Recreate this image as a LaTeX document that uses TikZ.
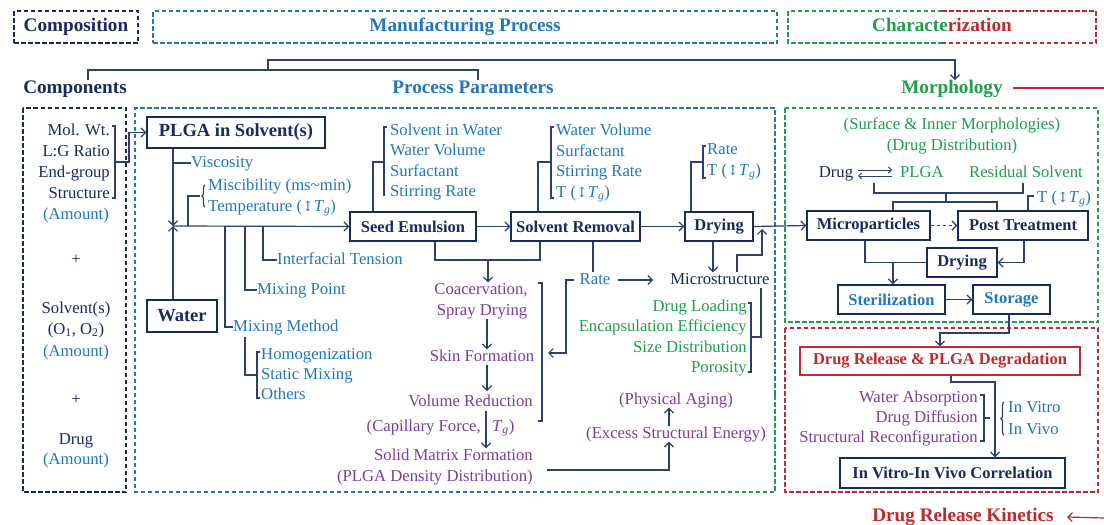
\documentclass[tikz,border=0pt]{standalone}
\usepackage{fontspec}
\setmainfont{Liberation Serif}
\newfontfamily\arrfont{DejaVu Serif}
\usetikzlibrary{arrows.meta,decorations.pathreplacing}
\definecolor{cnavy}{HTML}{1B2A5C}
\definecolor{cblue}{HTML}{2277BB}
\definecolor{cgreen}{HTML}{1F9E4E}
\definecolor{cred}{HTML}{BE2A2E}
\definecolor{cpurple}{HTML}{7A3E9D}
\definecolor{cline}{HTML}{2E3F6E}
\newcommand\fz[1]{\fontsize{#1}{20}\selectfont}
\newcommand\Tg{\textit{T}\textsubscript{\textit{g}}}
\newcommand\ud{{\arrfont\fontsize{14}{16}\selectfont ↕}}
\begin{document}
\begin{tikzpicture}[x=1pt,y=-1pt,
  t/.style={inner sep=0pt,font=\fz{16.7},text height=11.5pt,text depth=3.5pt,text=cnavy},
  hd/.style={inner sep=0pt,font=\fz{19.2}\bfseries,text height=13.5pt,text depth=4pt},
  bx/.style={draw=cnavy,line width=1.4pt,inner sep=0pt,font=\fz{16.5}\bfseries,text=cnavy,minimum height=29pt},
  dsh/.style={line width=1.6pt,dash pattern=on 4.5pt off 2.5pt},
  con/.style={draw=cline,line width=1.2pt},
  arr/.style={con,-{Straight Barb[length=4.5pt,width=9pt]}},
  brc/.style={con,decorate,decoration={brace,amplitude=3pt}}
  ]
\useasboundingbox (0,0) rectangle (1104,525);
\fill[white] (0,0) rectangle (1104,525);

% ---------- top headers
\node[hd,draw=cnavy,dsh,minimum width=124pt,minimum height=32pt,text=cnavy] (compo) at (76,27) {Composition};
\node[hd,draw=cblue,dsh,minimum width=624pt,minimum height=32pt,text=cblue] (manu) at (465,27) {Manufacturing Process};
\node[hd] (charz) at (942,27) {\textcolor{cgreen}{Characte}\textcolor{cred}{rization}};
\draw[cgreen,dsh] (942,11) -- (788,11) -- (788,43) -- (942,43);
\draw[cred,dsh] (942,11) -- (1096,11) -- (1096,43) -- (942,43);

% ---------- second row headers
\node[hd,text=cnavy] (comp) at (75,89) {Components};
\node[hd,text=cblue] (pp) at (473,89) {Process Parameters};
\node[hd,text=cgreen] (morph) at (952,89) {Morphology};
\draw[cred,line width=1.2pt] (1013,88) -- (1104,88);
\draw[con] (comp.north -| 88,0) -- (88,70) -- (478,70) -- (pp.north -| 478,0);
\draw[arr] (268,70) -- (268,60) -- (955,60) -- (morph.north -| 955,0);

% ---------- frames
\draw[cnavy,dsh] (23,108) rectangle (126,492);
\draw[cblue,dsh] (565,492) -- (135,492) -- (135,108) -- (775,108) -- (775,395);
\draw[cgreen,dsh] (775,395) -- (775,492) -- (565,492);
\draw[cgreen,dsh] (785,108) rectangle (1098,322);
\draw[cred,dsh] (785,328) rectangle (1098,492);

% ---------- components
\node[t,anchor=east] (mw) at (110,131) {Mol. Wt.};
\node[t,anchor=east] (lg) at (110,152) {L:G Ratio};
\node[t,anchor=east] (eg) at (110,173) {End-group};
\node[t,anchor=east] (st) at (110,194) {Structure};
\node[t,text=cblue] (am1) at (76,215) {(Amount)};
\node[t] (p1) at (76,260) {+};
\node[t] (sv) at (76,309) {Solvent(s)};
\node[t] (oo) at (76,330) {(O\textsubscript{1}, O\textsubscript{2})};
\node[t,text=cblue] (am2) at (76,352) {(Amount)};
\node[t] (p2) at (76,400) {+};
\node[t] (drg) at (76,440) {Drug};
\node[t,text=cblue] (am3) at (76,460) {(Amount)};
\draw[con] (112,126) -- (115,126) -- (115,198) -- (112,198);

% ---------- PLGA / water
\node[bx,font=\fz{18.5}\bfseries,minimum width=178pt,minimum height=31pt] (plga) at (236,132.5) {PLGA in Solvent(s)};
\node[bx,font=\fz{18.5}\bfseries,minimum width=70pt,minimum height=32pt] (water) at (182,316) {Water};
\draw[arr] (115,162) -- (129,162) |- (plga.west);
\coordinate (J) at (173,226);
\draw[arr] (plga.south -| J) -- (J);
\draw[arr] (water.north -| J) -- (J);

\node[t,text=cblue,anchor=west] (visc) at (191,163) {Viscosity};
\draw[con] (173,163) -- (visc.west);
\node[t,text=cblue,anchor=west] (misc) at (208,186) {Miscibility (ms\textasciitilde min)};
\node[t,text=cblue,anchor=west] (temp) at (208,207) {Temperature (\ud\Tg)};
\draw[con] (188,226) -- (188,196) -- (200,196);
\draw[brc] (205,207) -- (205,185);

\node[t,text=cblue,anchor=west] (mmeth) at (233,327) {Mixing Method};
\node[t,text=cblue,anchor=west] (mpt) at (257,290) {Mixing Point};
\node[t,text=cblue,anchor=west] (ift) at (277,260) {Interfacial Tension};
\draw[con] (225,226) |- (mmeth.west);
\draw[con] (245,226) |- (mpt.west);
\draw[con] (263,226) |- (ift.west);
\node[t,text=cblue,anchor=west] (hom) at (261,355) {Homogenization};
\node[t,text=cblue,anchor=west] (stm) at (261,375) {Static Mixing};
\node[t,text=cblue,anchor=west] (oth) at (261,395) {Others};
\draw[con] (245,337) |- (256,375);
\draw[con] (260,352) -- (257,352) -- (257,398) -- (260,398);

% ---------- process boxes
\node[bx,minimum width=126pt] (seed) at (413,226.5) {Seed Emulsion};
\node[bx,minimum width=129pt] (srem) at (575.5,226.5) {Solvent Removal};
\node[bx,minimum width=68pt] (dry) at (719,226.5) {Drying};
\draw[arr] (J) -- (seed.west);
\draw[arr] (seed) -- (srem);
\draw[arr] (srem) -- (dry);

% seed params
\node[t,text=cblue,anchor=west] (s1) at (390,131) {Solvent in Water};
\node[t,text=cblue,anchor=west] (s2) at (390,151) {Water Volume};
\node[t,text=cblue,anchor=west] (s3) at (390,172) {Surfactant};
\node[t,text=cblue,anchor=west] (s4) at (390,192) {Stirring Rate};
\draw[con] (seed.north -| 373,0) |- (384,162);
\draw[con] (387,127) -- (384,127) -- (384,196);
% solvent removal params
\node[t,text=cblue,anchor=west] (r1) at (556,131) {Water Volume};
\node[t,text=cblue,anchor=west] (r2) at (556,152) {Surfactant};
\node[t,text=cblue,anchor=west] (r3) at (556,172) {Stirring Rate};
\node[t,text=cblue,anchor=west] (r4) at (556,193) {T (\ud\Tg)};
\draw[con] (srem.north -| 538,0) |- (551,162);
\draw[con] (554,127) -- (551,127) -- (551,198) -- (554,198);
% drying params
\node[t,text=cblue,anchor=west] (d1) at (707,150) {Rate};
\node[t,text=cblue,anchor=west] (d2) at (707,171) {T (\ud\Tg)};
\draw[con] (dry.north -| 691,0) |- (703,162);
\draw[con] (706,146) -- (703,146) -- (703,178) -- (706,178);

% ---------- microstructure
\node[t] (ms) at (720,280) {Microstructure};
\node[t,text=cblue] (rate) at (595,280) {Rate};
\draw[arr] (dry.south -| 713,0) -- (ms.north -| 713,0);
\draw[arr] (ms.north -| 737,0) -- (737,255) -- (762,255) -- (762,229);
\draw[con] (srem.south -| 593,0) -- (rate.north -| 593,0);
\draw[arr] ([xshift=7pt]rate.east) -- ([xshift=-17pt]ms.west);
\draw[arr] ([xshift=-6pt]rate.west) -- (566,280) -- (566,353) -- (548,353);
\draw[con] (538,283) -- (542,283) -- (542,421) -- (538,421);

\node[t,text=cgreen,anchor=east] (g1) at (747,307) {Drug Loading};
\node[t,text=cgreen,anchor=east] (g2) at (747,327) {Encapsulation Efficiency};
\node[t,text=cgreen,anchor=east] (g3) at (747,348) {Size Distribution};
\node[t,text=cgreen,anchor=east] (g4) at (747,368) {Porosity};
\draw[con] (748,303) -- (751,303) -- (751,372) -- (748,372);
\draw[con] (751,337) -- (761,337) -- (ms.south -| 761,0);

% ---------- purple chain
\draw[con] (seed.south -| 435,0) -- (435,260) -- (540,260) -- (srem.south -| 540,0);
\node[t,text=cpurple] (coac) at (481,290) {Coacervation,};
\node[t,text=cpurple] (spray) at (482,311) {Spray Drying};
\node[t,text=cpurple] (skin) at (482,357) {Skin Formation};
\node[t,text=cpurple,anchor=east] (volr) at (533,402) {Volume Reduction};
\node[t,text=cpurple,anchor=east] (cap) at (481,427) {(Capillary Force,};
\node[t,text=cpurple,anchor=west] (tg) at (492,427) {\Tg)};
\node[t,text=cpurple,anchor=east] (solid) at (533,456) {Solid Matrix Formation};
\node[t,text=cpurple,anchor=east] (dens) at (533,477) {(PLGA Density Distribution)};
\draw[arr] (488,260) -- (coac.north -| 488,0);
\draw[arr] (spray.south -| 487,0) -- (skin.north -| 487,0);
\draw[arr] (skin.south -| 487,0) -- (487,391);
\draw[arr] (486,411) -- (solid.north -| 486,0);

\node[t,text=cpurple] (exc) at (676,434) {(Excess Structural Energy)};
\node[t,text=cpurple] (phys) at (676,400) {(Physical Aging)};
\draw[arr] (547,470) -- (669,470) -- (exc.south -| 669,0);
\draw[arr] (exc.north -| 669,0) -- (phys.south -| 669,0);

% ---------- morphology
\node[t,text=cgreen] (sim) at (952,125) {(Surface \& Inner Morphologies)};
\node[t,text=cgreen] (ddist) at (952,146) {(Drug Distribution)};
\node[t] (drug2) at (836,173) {Drug};
\node[t,text=cgreen] (plga2) at (922,173) {PLGA};
\node[t,text=cgreen] (rsol) at (1026,173) {Residual Solvent};
\draw[con,line width=1pt,-{Straight Barb[length=3pt,width=6pt]}] (858,170) -- (892,170);
\draw[con,line width=1pt,-{Straight Barb[length=3pt,width=6pt]}] (892,176) -- (858,176);
\draw[con] (874,183) -- (874,193) -- (1023,193) -- (1023,183);

\node[bx,minimum width=123pt] (mp) at (868.5,225.5) {Microparticles};
\node[bx,minimum width=130pt] (pt) at (1023,225.5) {Post Treatment};
\node[bx,minimum width=70pt] (dry2) at (962,262.5) {Drying};
\node[bx,minimum width=107pt,text=cblue] (ster) at (891.5,299.5) {Sterilization};
\node[bx,minimum width=77pt,text=cblue] (stor) at (1011.5,299.5) {Storage};
\draw[arr] (dry.east) -- (mp.west);
\draw[arr,dashed] (mp) -- (pt);
\draw[con] (946,193) -- (946,202);
\draw[con] (mp.north -| 893,0) -- (893,202) -- (997,202) -- (pt.north -| 997,0);
\node[t,text=cblue,anchor=west] (ptt) at (1037,198) {T (\ud\Tg)};
\draw[con] (pt.north -| 1028,0) |- (1034,196);
\draw[arr] (pt.south -| 1024,0) |- (dry2.east);
\draw[con] (mp.south -| 865,0) |- (dry2.west);
\draw[arr] (893,262.5) -- (ster.north -| 893,0);
\draw[arr] (ster) -- (stor);

% ---------- drug release
\node[bx,draw=cred,text=cred,minimum width=280pt,minimum height=28pt] (drr) at (940,361) {Drug Release \& PLGA Degradation};
\node[bx,minimum width=225pt,minimum height=30pt] (ivivc) at (952.5,473) {In Vitro-In Vivo Correlation};
\draw[arr] (stor.south -| 1009,0) -- (1009,333) -- (940,333) -- (drr.north -| 940,0);
\draw[arr] (drr.south -| 951,0) -- (951,382) -- (995,382) -- (ivivc.north -| 995,0);
\node[t,text=cpurple,anchor=east] (wa) at (978,398) {Water Absorption};
\node[t,text=cpurple,anchor=east] (dfu) at (978,418) {Drug Diffusion};
\node[t,text=cpurple,anchor=east] (sr) at (978,438) {Structural Reconfiguration};
\draw[con] (980,395) -- (984,395) -- (984,441) -- (980,441);
\draw[con] (984,418) -- (990,418);
\node[t,text=cblue,anchor=west] (ivt) at (1008,408) {In Vitro};
\node[t,text=cblue,anchor=west] (ivv) at (1008,430) {In Vivo};
\draw[brc] (1004,435) -- (1004,402);

\node[hd,text=cred] (drk) at (963,517) {Drug Release Kinetics};
\draw[con,draw=cred,-{Straight Barb[length=4.5pt,width=9pt]}] (1104,518) -- (drk.east -| 1067,0);
\end{tikzpicture}
\end{document}
